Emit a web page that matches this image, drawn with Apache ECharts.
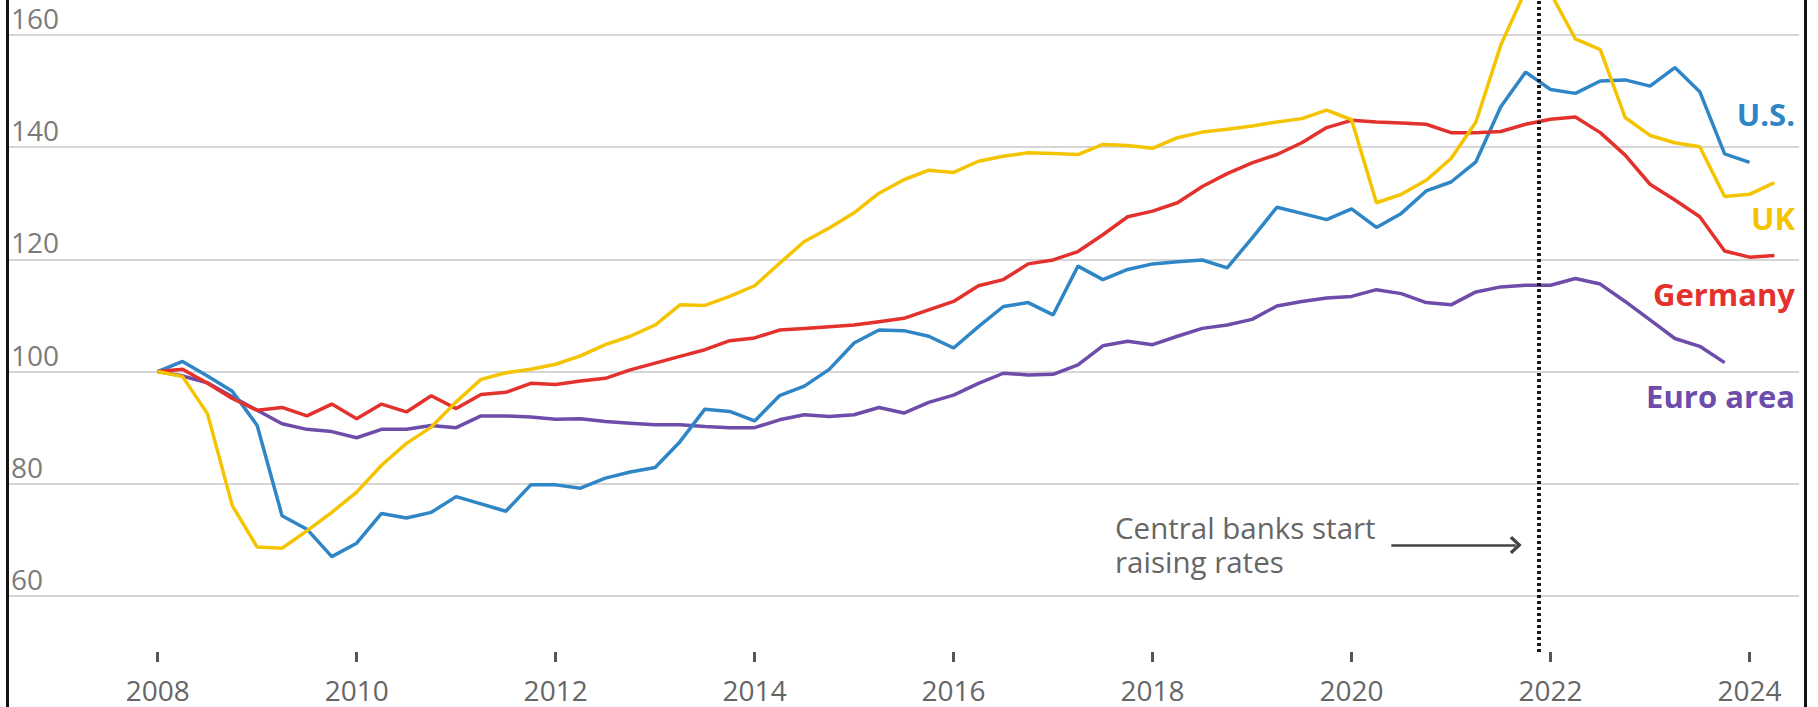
<!DOCTYPE html>
<html>
<head>
<meta charset="utf-8">
<title>House prices index</title>
<script src="https://cdn.jsdelivr.net/npm/echarts@6/dist/echarts.min.js"></script>
<style>
  html, body { margin: 0; padding: 0; background: #fff; }
  #wrap { position: relative; width: 1818px; height: 707px; }
  #main { width: 1818px; height: 707px; }
  .edge { position: absolute; top: 0; bottom: 0; width: 3px; background: #111; }
</style>
</head>
<body>
<div id="wrap">
  <div id="main"></div>
  <div class="edge" style="left:6px"></div>
  <div class="edge" style="left:1804px"></div>
</div>
<script>
// quarterly index, 2008 Q1 = 100
const startYear = 2008;
const yearTicks = [2008, 2010, 2012, 2014, 2016, 2018, 2020, 2022, 2024];
const valueTicks = [60, 80, 100, 120, 140, 160];

const usValues = [
  100, 101.8, 99.2, 96.5, 90.4, 74.3, 71.9, 67.0, 69.4, 74.7,
  73.9, 74.9, 77.7, 76.4, 75.1, 79.8, 79.8, 79.2, 81.0, 82.1,
  82.9, 87.5, 93.3, 92.9, 91.2, 95.7, 97.4, 100.4, 105.1, 107.4,
  107.3, 106.3, 104.2, 108.0, 111.6, 112.3, 110.1, 118.8, 116.4, 118.2,
  119.2, 119.6, 119.9, 118.5, 123.8, 129.3, 128.2, 127.1, 129.0, 125.7,
  128.2, 132.2, 133.8, 137.4, 147.2, 153.4, 150.3, 149.6, 151.8, 152.0,
  150.9, 154.2, 149.9, 138.8, 137.3
];
const ukValues = [
  100, 99.1, 92.5, 76.1, 68.7, 68.5, 71.6, 74.9, 78.5, 83.3,
  87.2, 90.1, 94.6, 98.6, 99.8, 100.4, 101.3, 102.8, 104.8, 106.3,
  108.3, 111.9, 111.8, 113.4, 115.3, 119.3, 123.2, 125.6, 128.3, 131.8,
  134.2, 135.9, 135.5, 137.5, 138.4, 139.0, 138.9, 138.7, 140.5, 140.3,
  139.8, 141.7, 142.7, 143.2, 143.8, 144.5, 145.1, 146.6, 144.9, 130.1,
  131.6, 134.1, 138.0, 144.5, 158.2, 168.0, 167.5, 159.3, 157.4, 145.3,
  142.1, 140.8, 140.1, 131.2, 131.6, 133.7
];
const germanyValues = [
  100, 100.4, 97.9, 95.2, 93.1, 93.6, 92.1, 94.2, 91.6, 94.2,
  92.8, 95.7, 93.4, 95.9, 96.3, 97.9, 97.7, 98.3, 98.8, 100.3,
  101.5, 102.7, 103.9, 105.5, 106.0, 107.4, 107.7, 108.0, 108.3, 108.9,
  109.5, 111.0, 112.5, 115.3, 116.4, 119.2, 119.9, 121.4, 124.4, 127.6,
  128.6, 130.1, 133.0, 135.3, 137.2, 138.7, 140.8, 143.5, 144.8, 144.5,
  144.3, 144.1, 142.6, 142.6, 142.8, 144.1, 145.0, 145.4, 142.6, 138.6,
  133.4, 130.6, 127.6, 121.5, 120.4, 120.7
];
const euroValues = [
  100, 99.2, 98.0, 95.5, 93.1, 90.7, 89.7, 89.3, 88.2, 89.7,
  89.7, 90.4, 90.0, 92.1, 92.1, 91.9, 91.5, 91.6, 91.1, 90.8,
  90.5, 90.5, 90.2, 90.0, 90.0, 91.4, 92.3, 92.0, 92.3, 93.6,
  92.6, 94.5, 95.8, 97.9, 99.7, 99.4, 99.5, 101.2, 104.6, 105.4,
  104.8, 106.3, 107.7, 108.3, 109.3, 111.7, 112.5, 113.1, 113.4, 114.6,
  113.9, 112.3, 111.9, 114.2, 115.1, 115.4, 115.4, 116.6, 115.6, 112.5,
  109.2, 105.9, 104.5, 101.6
];

// annotation: first rate hike
const rateHikeStart = 2021.88;
const arrowFrom = [2020.4, 69.1];
const arrowTo = [2021.65, 69.1];

const colors = { us: '#2f86c6', uk: '#f5c400', germany: '#e3312d', euro: '#6d4caa' };
const font = '"Open Sans", "Noto Sans", sans-serif';

function toPoints(values) {
  // one point per quarter
  return values.map((v, i) => [startYear + i / 4, v]);
}

function lineSeries(name, values, color, extra) {
  return Object.assign({
    name: name,
    type: 'line',
    data: toPoints(values),
    symbol: 'none',
    showSymbol: false,
    lineStyle: { color: color, width: 3.5 },
    itemStyle: { color: color }
  }, extra || {});
}

const chart = echarts.init(document.getElementById('main'), null, { renderer: 'svg' });

const option = {
  animation: false,
  backgroundColor: '#fff',
  grid: { left: 8, right: 19, top: 0, bottom: 55, containLabel: false, outerBoundsMode: 'none' },
  xAxis: {
    type: 'value',
    min: 2006.4955,
    max: 2024.4975,
    axisLine: { show: false },
    axisTick: { show: true, customValues: yearTicks, length: 10, lineStyle: { color: '#555', width: 3 } },
    axisLabel: {
      customValues: yearTicks, margin: 24, lineHeight: 28,
      fontSize: 28, fontFamily: font, color: '#666',
      formatter: v => String(v)
    },
    splitLine: { show: false }
  },
  yAxis: {
    type: 'value',
    min: 50,
    max: 166.25,
    axisLine: { show: false },
    axisTick: { show: false, customValues: valueTicks },
    axisLabel: {
      customValues: valueTicks, inside: true, align: 'left', verticalAlign: 'bottom',
      lineHeight: 34, margin: 3, fontSize: 28, fontFamily: font, color: '#7b7b7b'
    },
    splitLine: { show: true, lineStyle: { color: '#d6d6d6', width: 2 } }
  },
  series: [
    lineSeries('Euro area', euroValues, colors.euro),
    lineSeries('U.S.', usValues, colors.us, {
      markLine: {
        silent: true,
        symbol: 'none',
        label: { show: false },
        lineStyle: { color: '#1a1a1a', type: [3, 3], width: 4 },
        data: [{ xAxis: rateHikeStart }]
      }
    }),
    lineSeries('Germany', germanyValues, colors.germany),
    lineSeries('UK', ukValues, colors.uk, {
      markLine: {
        silent: true,
        symbol: ['none', 'path://M0,10 L10,0 L20,10 L17.5,12.5 L10,5 L2.5,12.5 Z'],
        symbolSize: [18, 12],
        label: { show: false },
        lineStyle: { color: '#444', type: 'solid', width: 2.5 },
        data: [[{ coord: arrowFrom }, { coord: arrowTo }]]
      }
    })
  ],
  graphic: [
    { type: 'text', x: 1795, y: 114, style: { text: 'U.S.', fill: colors.us, font: 'bold 31px ' + font, align: 'right', verticalAlign: 'middle' } },
    { type: 'text', x: 1795, y: 218, style: { text: 'UK', fill: colors.uk, font: 'bold 31px ' + font, align: 'right', verticalAlign: 'middle' } },
    { type: 'text', x: 1795, y: 294, style: { text: 'Germany', fill: colors.germany, font: 'bold 31px ' + font, align: 'right', verticalAlign: 'middle' } },
    { type: 'text', x: 1795, y: 396, style: { text: 'Euro area', fill: colors.euro, font: 'bold 31px ' + font, align: 'right', verticalAlign: 'middle' } },
    {
      type: 'text', x: 1115, y: 511,
      style: { text: 'Central banks start\nraising rates', fill: '#666', font: '29.5px ' + font, lineHeight: 33.5, align: 'left', verticalAlign: 'top' }
    }
  ]
};

chart.setOption(option);
</script>
</body>
</html>
